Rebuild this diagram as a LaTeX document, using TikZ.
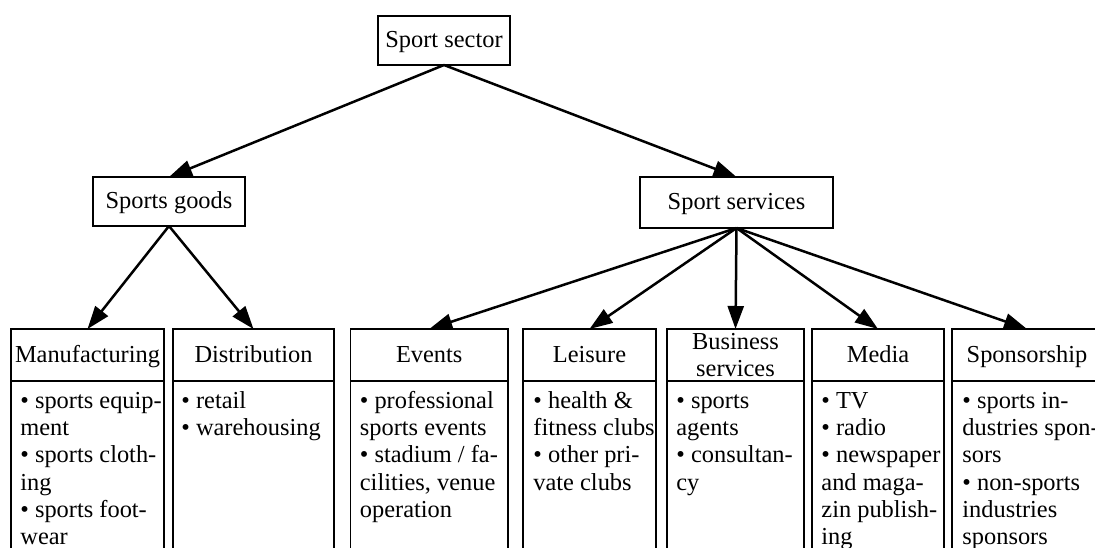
\documentclass[tikz,border=0pt]{standalone}
\usepackage{fontspec}
\setmainfont{Liberation Serif}
\usetikzlibrary{arrows.meta}
\begin{document}
\begin{tikzpicture}[x=0.5pt,y=-0.5pt,
  font=\fontsize{12.2}{13.6}\selectfont,
  frame/.style={draw=black, line width=0.8pt, rectangle, inner sep=0pt, outer sep=0pt, align=center},
  box/.style={frame, text height=9pt, text depth=2pt},
  head/.style={box, minimum height=26pt},
  headtwo/.style={frame, minimum height=26pt},
  bodybox/.style={frame, minimum height=90pt, anchor=north},
  items/.style={anchor=north west, inner sep=0pt, align=left},
  link/.style={-{Triangle[length=11.5pt,width=8pt]}, line width=1.25pt}
]
\useasboundingbox (0,0) rectangle (1095,547);
\fill[white] (0,0) rectangle (1095,547);
\clip (0,0) rectangle (1095,547);

% upper levels
\node[box, minimum width=66pt, minimum height=24.5pt] (sector) at (444,40.5) {Sport sector};
\node[box, minimum width=76pt, minimum height=24.5pt] (goods) at (169,201.5) {Sports goods};
\node[box, minimum width=96.5pt, minimum height=25.5pt] (services) at (736.5,202.5) {Sport services};

% category headers
\node[head, minimum width=76.5pt] (manuf) at (87.5,355) {Manufacturing};
\node[head, minimum width=80.5pt] (distr) at (253.5,355) {Distribution};
\node[head, minimum width=78.75pt] (events) at (429.25,355) {Events};
\node[head, minimum width=66.5pt] (leisure) at (589.5,355) {Leisure};
\node[headtwo, minimum width=68.5pt] (business) at (735.5,355) {Business\\services};
\node[head, minimum width=66pt] (media) at (878,355) {Media};
\node[head, minimum width=75pt] (sponsor) at (1027,355) {Sponsorship};

% category bodies
\foreach \n/\w in {manuf/76.5pt, distr/80.5pt, events/78.75pt, leisure/66.5pt,
                   business/68.5pt, media/66pt, sponsor/75pt}
  \node[bodybox, minimum width=\w] (\n B) at (\n.south) {};

% item lists
\node[items] (manufT) at ([xshift=4.5pt,yshift=-4pt]manuf.south west)
  {\strut• sports equip-\\ment\\• sports cloth-\\ing\\• sports foot-\\wear};
\node[items] (distrT) at ([xshift=4pt,yshift=-4pt]distr.south west)
  {\strut• retail\\• warehousing};
\node[items] (eventsT) at ([xshift=4.5pt,yshift=-4pt]events.south west)
  {\strut• professional\\sports events\\• stadium / fa-\\cilities, venue\\operation};
\node[items] (leisureT) at ([xshift=5pt,yshift=-4pt]leisure.south west)
  {\strut• health \&\\fitness clubs\\• other pri-\\vate clubs};
\node[items] (businessT) at ([xshift=4.5pt,yshift=-4pt]business.south west)
  {\strut• sports\\agents\\• consultan-\\cy};
\node[items] (mediaT) at ([xshift=4.5pt,yshift=-4pt]media.south west)
  {\strut• TV\\• radio\\• newspaper\\and maga-\\zin publish-\\ing};
\node[items] (sponsorT) at ([xshift=5pt,yshift=-4pt]sponsor.south west)
  {\strut• sports in-\\dustries spon-\\sors\\• non-sports\\industries\\sponsors};

% connectors
\draw[link] (sector.south) -- (goods.north);
\draw[link] (sector.south) -- (services.north);
\draw[link] (goods.south) -- (manuf.north);
\draw[link] (goods.south) -- (distr.north);
\foreach \t in {events, leisure, business, media, sponsor}
  \draw[link] (services.south) -- (\t.north);
\end{tikzpicture}
\end{document}
